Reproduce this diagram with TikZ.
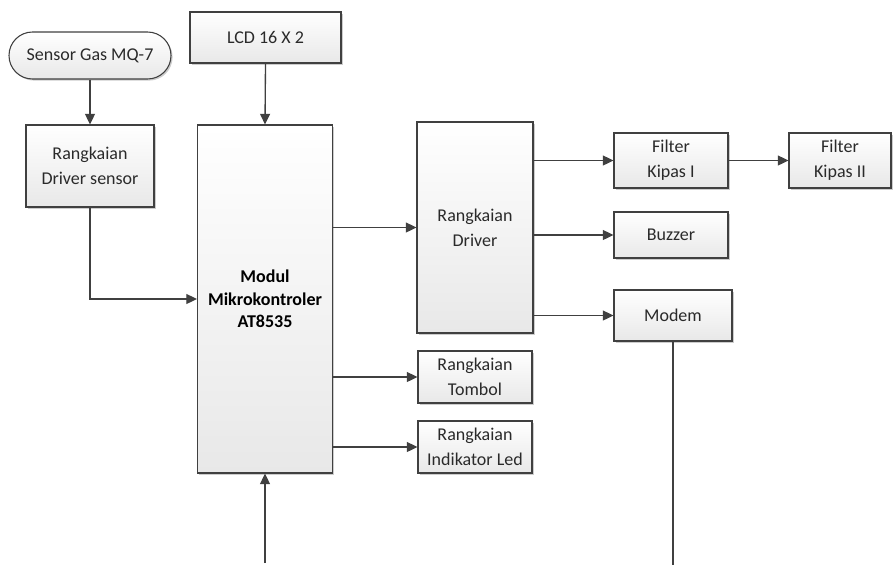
\documentclass[tikz,border=0pt]{standalone}
\usepackage{fontspec}
\setmainfont{Carlito}
\usetikzlibrary{arrows.meta,shadows}
\definecolor{edge}{HTML}{404040}
\definecolor{ink}{HTML}{2a2a2a}
\tikzset{
  blk/.style={draw=edge, line width=0.8pt, top color=white, bottom color=black!9,
    text=ink, align=center, inner sep=2pt, font=\fontsize{13.5}{18.5}\selectfont,
    drop shadow={shadow xshift=1.2pt, shadow yshift=-1.2pt, opacity=0.2, fill=black}},
  arr/.style={draw=edge, line width=1pt, -{Triangle[length=8pt,width=7.5pt]}},
  wire/.style={draw=edge, line width=1pt}
}
\begin{document}
\begin{tikzpicture}[x=0.75pt,y=-0.75pt]
\useasboundingbox (0,0) rectangle (893,565);
% input side
\node[blk, rounded corners=17.6pt, minimum width=121.5pt, minimum height=35.25pt] (gas) at (90,55.5) {Sensor Gas MQ-7};
\node[blk, minimum width=113.25pt, minimum height=38.25pt] (lcd) at (265.5,37.5) {LCD 16 X 2};
\node[blk, minimum width=96pt, minimum height=61.5pt] (ds) at (90,166) {Rangkaian\\Driver sensor};
% microcontroller
\node[blk, minimum width=101.25pt, minimum height=261pt, font=\fontsize{13.5}{17}\selectfont\bfseries, text=black] (mod) at (265,299) {Modul\\Mikrokontroler\\AT8535};
% driver and outputs
\node[blk, minimum width=87pt, minimum height=158.25pt] (drv) at (475,227.5) {Rangkaian\\Driver};
\node[blk, minimum width=85.5pt, minimum height=41.25pt] (fk1) at (671,160.5) {Filter\\Kipas I};
\node[blk, minimum width=76.5pt, minimum height=41.25pt] (fk2) at (840,160.5) {Filter\\Kipas II};
\node[blk, minimum width=85.5pt, minimum height=34.5pt] (buz) at (671,235) {Buzzer};
\node[blk, minimum width=88.5pt, minimum height=38.25pt] (mdm) at (673,315.5) {Modem};
\node[blk, minimum width=85.5pt, minimum height=39pt] (tom) at (475,377) {Rangkaian\\Tombol};
\node[blk, minimum width=85.5pt, minimum height=39pt] (led) at (475,447) {Rangkaian\\Indikator Led};
% free ends at the bottom edge
\coordinate (inb) at (265,563);
\coordinate (outb) at (673,565);
% connectors
\draw[arr] (gas.south) -- (ds.north);
\draw[arr] (lcd.south) -- (mod.north);
\draw[arr] (ds.south) |- (mod.west);
\draw[arr] (inb) -- (mod.south);
\draw[arr] (mod.east |- drv.west) -- (drv.west);
\draw[arr] (mod.east |- tom.west) -- (tom.west);
\draw[arr] (mod.east |- led.west) -- (led.west);
\draw[arr] (drv.east |- fk1.west) -- (fk1.west);
\draw[arr] (drv.east |- buz.west) -- (buz.west);
\draw[arr] (drv.east |- mdm.west) -- (mdm.west);
\draw[arr] (fk1.east) -- (fk2.west);
\draw[wire] (mdm.south) -- (outb);
\end{tikzpicture}
\end{document}
